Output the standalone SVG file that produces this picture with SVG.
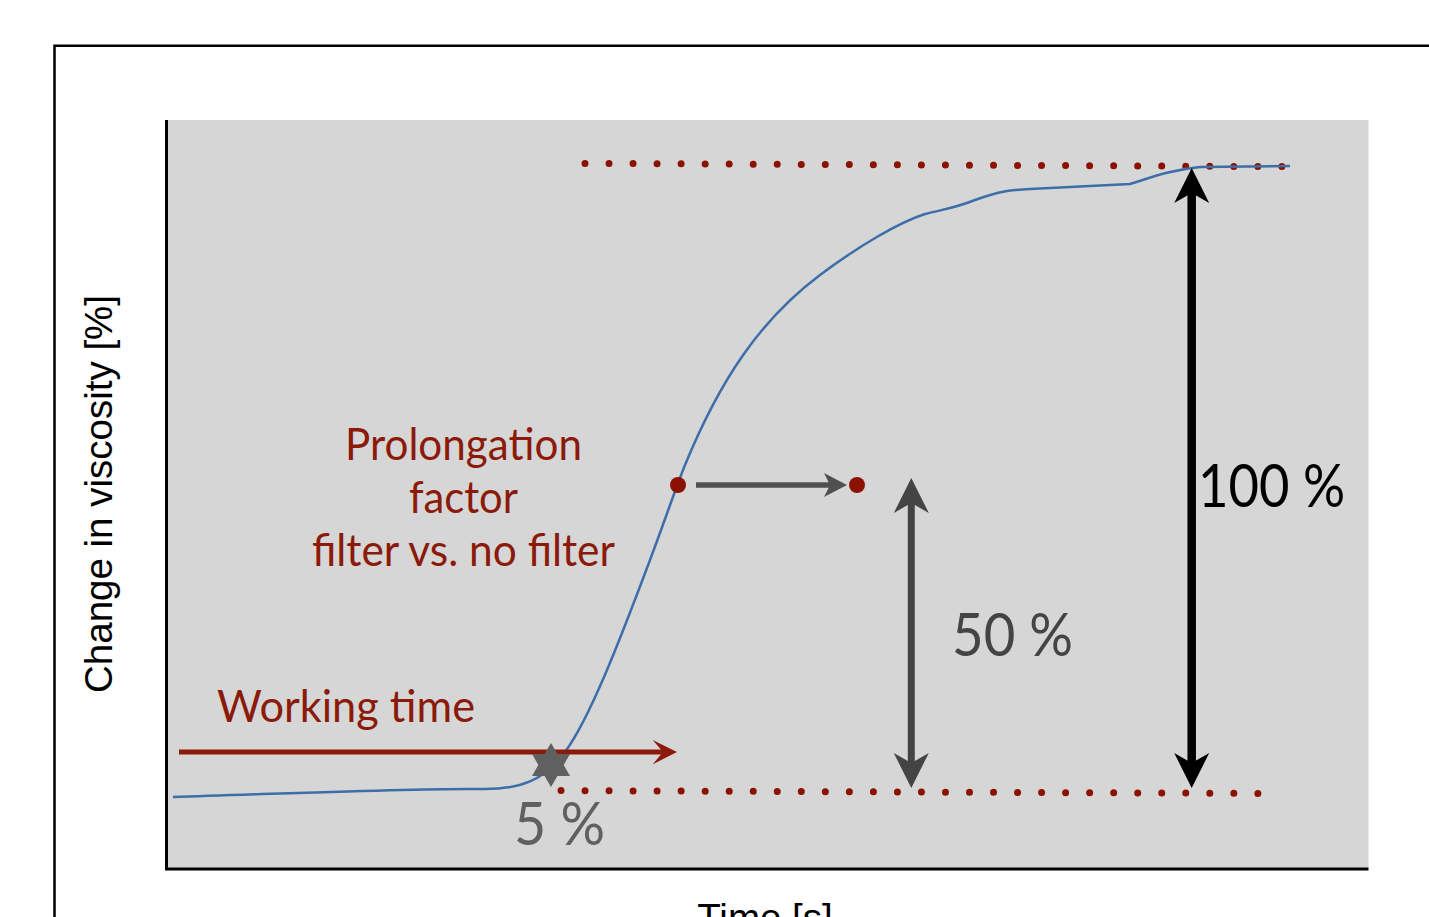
<svg xmlns="http://www.w3.org/2000/svg" width="1429" height="917" viewBox="0 0 1429 917">
  <style>
    .label { font-family: "Lato", "Open Sans", sans-serif; }
    .axis-title { font-family: "Liberation Sans", Arial, sans-serif; font-size: 38.5px; fill: #000; }
    .red { fill: #8b1a0a; }
    .dots { fill: none; stroke: #8b1200; stroke-width: 7; stroke-linecap: round; stroke-dasharray: 0 24.03; }
  </style>

  <!-- page -->
  <rect x="0" y="0" width="1429" height="917" fill="#fff"/>
  <!-- outer frame -->
  <path d="M54.5,917 V45.8 H1429" fill="none" stroke="#000" stroke-width="2.5"/>

  <!-- plot area -->
  <g id="plot">
    <rect x="166" y="120" width="1202.5" height="748.5" fill="#d6d6d6"/>
    <path d="M166.5,120 V869 H1368.5" fill="none" stroke="#000" stroke-width="3"/>
  </g>

  <!-- axis titles -->
  <g id="axis-titles">
    <text class="axis-title" transform="translate(111.5,494) rotate(-90)" text-anchor="middle">Change in viscosity [%]</text>
    <text class="axis-title" x="765" y="931" text-anchor="middle" font-size="37">Time [s]</text>
  </g>

  <!-- reference levels (0 % and 100 %) -->
  <g id="levels">
    <path class="dots" d="M585,163.4 L1282.5,166.6"/>
    <path class="dots" d="M561,790.6 L1258.5,793.4"/>
  </g>

  <!-- viscosity curve -->
  <g id="curve">
    <path d="M173,797 C300,793 420,788 480,789 C520,790 545,780 565,752 C590,718 620,640 650,560 C665,520 675,490 685,465 C720,380 760,320 820,275 C860,245 900,222 925,214 C945,209 955,208 975,200 C1000,191 1010,190 1030,189 L1130,184 C1150,178 1170,170 1200,167 L1290,166" fill="none" stroke="#3d6ea8" stroke-width="2.5"/>
  </g>

  <!-- connectors -->
  <g id="connectors">
    <!-- working time -->
    <line x1="179" y1="752" x2="666" y2="752" stroke="#8b1a0a" stroke-width="5"/>
    <polygon points="677,752 652.7,740 663,752 652.7,764.3" fill="#8b1a0a"/>
    <!-- prolongation shift -->
    <line x1="696" y1="485" x2="836" y2="485" stroke="#505050" stroke-width="5.5"/>
    <polygon points="847,485 824,473 830,485 824,497" fill="#505050"/>
    <!-- 50 % span -->
    <line x1="911.3" y1="500" x2="911.3" y2="766" stroke="#444" stroke-width="7"/>
    <polygon points="911.3,478 928.8,513 911.3,503 893.8,513" fill="#444"/>
    <polygon points="911.3,788 928.8,753 911.3,763 893.8,753" fill="#444"/>
    <!-- 100 % span -->
    <line x1="1191.7" y1="190" x2="1191.7" y2="766" stroke="#000" stroke-width="8.5"/>
    <polygon points="1191.7,168 1209.2,203 1191.7,193 1174.2,203" fill="#000"/>
    <polygon points="1191.7,788 1209.2,753 1191.7,763 1174.2,753" fill="#000"/>
  </g>

  <!-- 5 % onset marker -->
  <g id="onset">
    <polygon points="551,743 557.4,754 570,754 563.7,765 570,776 557.4,776 551,787 544.6,776 532,776 538.3,765 532,754 544.6,754" fill="#606060"/>
  </g>

  <!-- 50 % points -->
  <g id="points">
    <circle cx="678" cy="485" r="8" fill="#8b1200"/>
    <circle cx="857" cy="485" r="8" fill="#8b1200"/>
  </g>

  <!-- labels -->
  <g id="label-working-time">
    <text class="label red" x="217" y="722" font-size="44" textLength="258" lengthAdjust="spacingAndGlyphs">Working time</text>
  </g>
  <g id="label-prolongation">
    <text class="label red" x="345" y="460" font-size="44" textLength="237" lengthAdjust="spacingAndGlyphs">Prolongation</text>
    <text class="label red" x="409" y="513" font-size="44" textLength="109" lengthAdjust="spacingAndGlyphs">factor</text>
    <text class="label red" x="312" y="566" font-size="44" textLength="303" lengthAdjust="spacingAndGlyphs">filter vs. no filter</text>
  </g>
  <g id="label-5">
    <text class="label" x="514" y="845" font-size="60" fill="#606060" textLength="91" lengthAdjust="spacingAndGlyphs">5 %</text>
  </g>
  <g id="label-50">
    <text class="label" x="952" y="656" font-size="60" fill="#444" textLength="121" lengthAdjust="spacingAndGlyphs">50 %</text>
  </g>
  <g id="label-100">
    <text class="label" x="1198" y="507" font-size="60" fill="#000" textLength="147" lengthAdjust="spacingAndGlyphs">100 %</text>
  </g>
</svg>
